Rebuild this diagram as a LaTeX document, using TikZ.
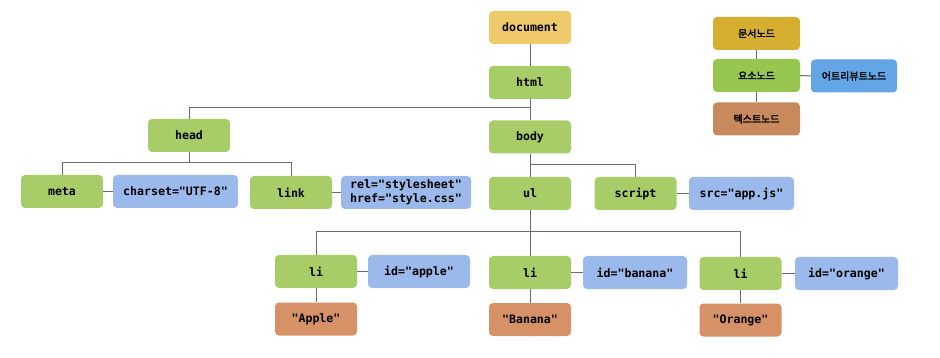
\documentclass[tikz,border=0pt]{standalone}
\usepackage{fontspec}
\setmonofont{DejaVu Sans Mono}
\newfontfamily\kr{Noto Sans CJK KR}[AutoFakeBold=2.5]
\definecolor{docc}{RGB}{238,202,106}
\definecolor{elc}{RGB}{168,205,104}
\definecolor{atc}{RGB}{155,185,235}
\definecolor{txc}{RGB}{214,146,102}
\definecolor{ldocc}{RGB}{215,175,48}
\definecolor{lelc}{RGB}{150,198,80}
\definecolor{latc}{RGB}{100,165,230}
\definecolor{ltxc}{RGB}{200,138,92}
\definecolor{linec}{RGB}{105,105,120}
\tikzset{
  box/.style={rounded corners=4pt, minimum height=33pt, inner sep=0pt, align=left,
    font=\ttfamily\bfseries\fontsize{11.6}{14}\selectfont, text=black},
  docbox/.style={box, fill=docc, minimum width=82pt},
  elbox/.style={box, fill=elc, minimum width=82pt},
  atbox/.style={box, fill=atc},
  txbox/.style={box, fill=txc, minimum width=82pt},
  lgbox/.style={rounded corners=4pt, minimum height=33pt, minimum width=87pt, inner sep=0pt,
    font=\kr\bfseries\fontsize{10}{12}\selectfont, text=black},
  conn/.style={draw=linec, line width=1pt}
}
\begin{document}
\begin{tikzpicture}[x=1pt, y=-1pt]
\useasboundingbox (0,0) rectangle (940,358);
% main tree
\node[docbox] (document) at (530,27.5) {document};
\node[elbox] (html) at (530,82.5) {html};
\node[elbox] (body) at (530,137) {body};
\node[elbox] (head) at (189,135.5) {head};
\node[elbox] (meta) at (62,191.5) {meta};
\node[atbox, minimum width=125pt] (charset) at (175.5,191.5) {charset="UTF-8"};
\node[elbox] (link) at (291,192.5) {link};
\node[atbox, minimum width=130pt] (rel) at (406,192.5) {rel="stylesheet"\\href="style.css"};
\node[elbox] (ul) at (530,193.5) {ul};
\node[elbox] (script) at (635.5,193.5) {script};
\node[atbox, minimum width=105pt] (src) at (741.5,193.5) {src="app.js"};
\node[elbox] (li1) at (316,271.5) {li};
\node[atbox, minimum width=102pt] (id1) at (419,271.5) {id="apple"};
\node[txbox] (t1) at (316,319) {"Apple"};
\node[elbox] (li2) at (530,272.5) {li};
\node[atbox, minimum width=104pt] (id2) at (635,272.5) {id="banana"};
\node[txbox] (t2) at (530,319.5) {"Banana"};
\node[elbox] (li3) at (740.5,273.5) {li};
\node[atbox, minimum width=103pt] (id3) at (846.5,273.5) {id="orange"};
\node[txbox] (t3) at (740.5,320) {"Orange"};
% junctions
\coordinate (jhtml) at (530,108);
\coordinate (jhead) at (189,163);
\coordinate (jbody) at (530,165);
\coordinate (jul) at (530,232);
% connectors
\draw[conn] (document) -- (html);
\draw[conn] (html) -- (body);
\draw[conn] (jhtml) -| (head.north);
\draw[conn] (head) -- (jhead);
\draw[conn] (jhead) -| (meta.north);
\draw[conn] (jhead) -| (link.north);
\draw[conn] (meta) -- (charset);
\draw[conn] (link) -- (rel);
\draw[conn] (body) -- (ul);
\draw[conn] (jbody) -| (script.north);
\draw[conn] (script) -- (src);
\draw[conn] (ul) -- (li2);
\draw[conn] (jul) -| (li1.north);
\draw[conn] (jul) -| (li3.north);
\draw[conn] (li1) -- (id1);
\draw[conn] (li2) -- (id2);
\draw[conn] (li3) -- (id3);
\draw[conn] (li1) -- (t1);
\draw[conn] (li2) -- (t2);
\draw[conn] (li3) -- (t3);
% legend
\node[lgbox, fill=ldocc] (ldoc) at (756.5,33.5) {문서노드};
\node[lgbox, fill=lelc] (lel) at (756.5,75.5) {요소노드};
\node[lgbox, fill=latc, minimum width=86pt] (lat) at (854,76) {어트리뷰트노드};
\node[lgbox, fill=ltxc] (ltx) at (756.5,119) {텍스트노드};
\draw[conn] (ldoc) -- (lel);
\draw[conn] (lel) -- (lat);
\draw[conn] (lel) -- (ltx);
\end{tikzpicture}
\end{document}
